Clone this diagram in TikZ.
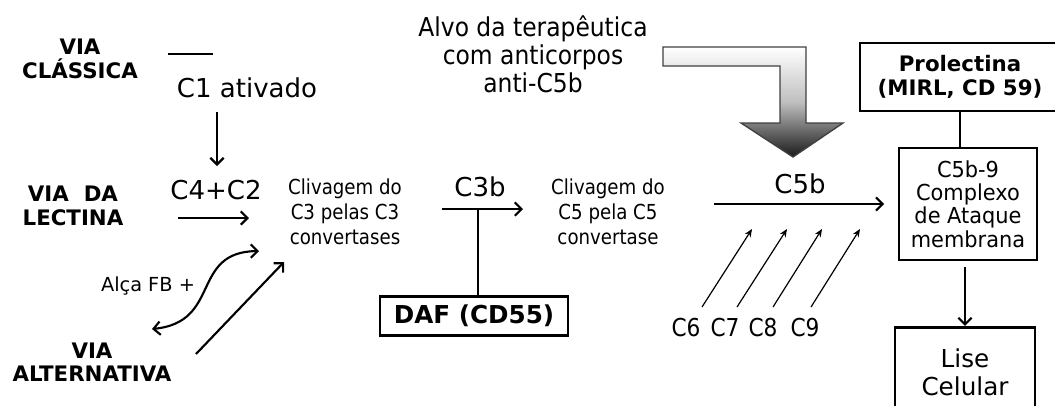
\documentclass[tikz,border=0pt]{standalone}
\usepackage{fontspec}
\setmainfont{DejaVu Sans}
\newfontfamily\estreita{DejaVu Sans}[FakeStretch=0.88]
\newfontfamily\alvofont{DejaVu Sans}[FakeStretch=0.9]
\newfontfamily\caixafont{DejaVu Sans}[FakeStretch=0.95]
\usetikzlibrary{arrows.meta}
\tikzset{
  via/.style={font=\fontsize{16}{17.5}\selectfont\bfseries, align=center, inner sep=0pt},
  grande/.style={font=\fontsize{19.5}{21}\selectfont, inner sep=0pt},
  medio/.style={font=\estreita\fontsize{15.5}{18.75}\selectfont, align=center, inner sep=0pt},
  caixa/.style={draw, line width=2.2pt, align=center, inner sep=0pt},
  seta/.style={-{Straight Barb[length=5pt,width=10pt,line width=1.6pt]}, line width=1.6pt},
  setafina/.style={-{Stealth[length=6pt,width=5pt]}, line width=0.9pt},
}
\begin{document}
\begin{tikzpicture}[x=0.75pt,y=-0.75pt]
\useasboundingbox (0,0) rectangle (1055,405);
\clip (0,0) rectangle (1055,405);
% vias
\node[via] (vcl) at (80,59) {VIA\\CLÁSSICA};
\node[via] (vlec) at (73,206) {VIA~~DA\\LECTINA};
\node[via] (valt) at (92,362) {VIA\\ALTERNATIVA};
% via classica
\node[grande] (c1) at (247,88) {C1 ativado};
\draw[line width=1.6pt] (168,54) -- (213,54);
\coordinate (c1b) at (217,112);
\coordinate (c1e) at (217,166);
\draw[seta] (c1b) -- (c1e);
\node[grande] (c4c2) at (216,190) {C4+C2};
\coordinate (lecb) at (178,218);
\coordinate (lece) at (249,218);
\draw[seta] (lecb) -- (lece);
\node[medio] (cliv3) at (345,212) {Clivagem do\\C3 pelas C3\\convertases};
% alca FB
\node[font=\fontsize{14.5}{16}\selectfont, inner sep=0pt] (alca) at (148,286) {Alça FB +};
\coordinate (fba) at (152,329);
\coordinate (fbb) at (259,251);
\draw[{Straight Barb[length=5pt,width=10pt,line width=1.6pt]}-{Straight Barb[length=5pt,width=10pt,line width=1.6pt]}, line width=1.6pt]
  (fba) .. controls (222,322) and (190,252) .. (fbb);
\coordinate (altb) at (196,354);
\coordinate (alte) at (284,262);
\draw[seta] (altb) -- (alte);
% C3b e DAF
\node[grande] (c3b) at (480,187) {C3b};
\coordinate (c3bb) at (442,209);
\coordinate (c3be) at (523,209);
\draw[seta] (c3bb) -- (c3be);
\node[caixa, minimum width=141pt, minimum height=29pt, font=\fontsize{18.5}{20}\selectfont\bfseries] (daf) at (474,316) {DAF (CD55)};
\draw[line width=1.6pt] (478,209) -- (478,316 |- daf.north);
\node[medio] (cliv5) at (608,212) {Clivagem do\\C5 pela C5\\convertase};
% alvo terapeutico
\node[font=\alvofont\fontsize{19.5}{21}\selectfont, align=center, inner sep=0pt] (alvo) at (533,54) {Alvo da terapêutica\\com anticorpos\\anti-C5b};
\shade[top color=white, bottom color=black!90, middle color=black!25, draw=black!75, line width=1pt]
  (663,47) -- (806,47) -- (806,123) -- (843,123) -- (793,157) -- (741,123)
  -- (780,123) -- (780,66) -- (663,66) -- cycle;
% C5b
\node[grande] (c5b) at (800,184) {C5b};
\coordinate (c5bb) at (714,204);
\node[caixa, minimum width=103.5pt, minimum height=84pt, font=\caixafont\fontsize{16.5}{17.5}\selectfont] (mac) at (968,204) {C5b-9\\Complexo\\de Ataque\\membrana};
\draw[seta, shorten >=10pt] (c5bb) -- (mac.west |- c5bb);
\foreach \nome/\x/\xa/\xb in {6/686/702/752, 7/725/737/787, 8/763/773/822, 9/805/811/860}{
  \node[grande, font=\estreita\fontsize{18.5}{20}\selectfont] (c\nome) at (\x,328) {C\nome};
  \coordinate (p\nome a) at (\xa,307);
  \coordinate (p\nome b) at (\xb,229);
  \draw[setafina] (p\nome a) -- (p\nome b);
}
% regulador e lise
\node[caixa, minimum width=150pt, minimum height=51pt, font=\fontsize{16}{17.5}\selectfont\bfseries] (prol) at (960,77) {Prolectina\\(MIRL, CD 59)};
\draw[line width=1.6pt] (prol.south) -- (prol.south |- mac.north);
\node[caixa, minimum width=105pt, minimum height=67pt, font=\fontsize{18.5}{21}\selectfont] (lise) at (965,372) {Lise\\Celular};
\coordinate (macb) at (965,267);
\draw[seta] (macb) -- (lise.north);
\end{tikzpicture}
\end{document}
